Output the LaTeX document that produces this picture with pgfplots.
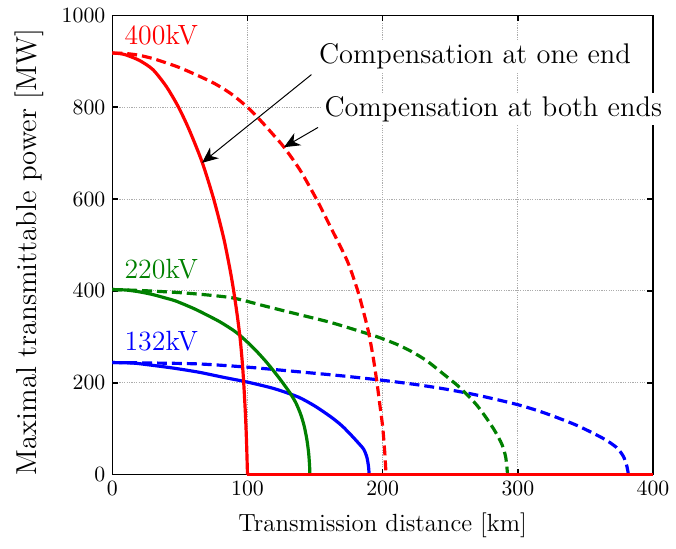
\documentclass[border=0pt]{standalone}
\usepackage{pgfplots}
\pgfplotsset{compat=1.18}
\usetikzlibrary{arrows.meta}

\definecolor{lred}{RGB}{255,0,0}
\definecolor{lgreen}{RGB}{0,128,0}
\definecolor{lblue}{RGB}{0,0,255}

\begin{document}
\begin{tikzpicture}
\begin{axis}[
  scale only axis,
  width=272pt, height=231pt,
  xmin=0, xmax=400, ymin=0, ymax=1000,
  xtick={0,100,200,300,400},
  ytick={0,200,400,600,800,1000},
  /pgf/number format/1000 sep={},
  grid=major,
  major grid style={gray!65, line width=0.5pt, dash pattern=on 0.6pt off 0.6pt},
  tick align=inside,
  major tick length=3pt,
  tick style={black, line width=0.8pt},
  axis line style={black, line width=0.6pt},
  clip=false,
  tick label style={font=\fontsize{11}{13}\selectfont},
  xlabel={Transmission distance [km]},
  ylabel={Maximal transmittable power [MW]},
  xlabel style={font=\fontsize{12.5}{15}\selectfont, inner sep=0pt, at={(axis description cs:0.5,-0.1234)}, anchor=base},
  ylabel style={font=\fontsize{14.5}{16}\selectfont, inner sep=0pt, at={(axis description cs:-0.1526,0.485)}, anchor=center},
  every axis plot/.append style={line width=1.6pt, line join=round},
  curve/.style={smooth, tension=0.45},
  solidline/.style={solid},
  dashline/.style={dash pattern=on 5pt off 2.5pt},
]

% 132 kV, compensation at one end
\addplot[lblue, solidline, curve] coordinates {
 (0,244)(15,243)(27,239)(45,232)(64,223)(82,212)(100.7,201)(120,187)
 (137.5,169)(150,149)(162,125)(170,106)(177,85)(182,69)(186,55)
 (188.3,38)(189.5,18)(190,0)};
\addplot[lblue, solidline] coordinates {(190,0)(400,0)};
% 132 kV, compensation at both ends
\addplot[lblue, dashline, curve] coordinates {
 (0,244)(30,243)(64,241)(100,234)(137.5,224)(170,215)(198,206)(220,198)
 (245,187)(270,173)(299,153)(319,135)(343,108)(363,79)(373,59)(378,40)
 (380.5,20)(381.8,0)};
\addplot[lblue, dashline] coordinates {(381.8,0)(400,0)};

% 220 kV, compensation at one end
\addplot[lgreen, solidline, curve] coordinates {
 (0,403)(10,402)(20,398)(30,392)(40,384)(47,378)(60,362)(69,349)(80,332)
 (92,309)(104,277)(114,245)(123,212)(131.4,178)(136,155)(139.5,130)
 (142,105)(144,75)(145.3,45)(146,15)(146,0)};
\addplot[lgreen, solidline] coordinates {(146,0)(400,0)};
% 220 kV, compensation at both ends
\addplot[lgreen, dashline, curve] coordinates {
 (0,403)(20,401)(40,398)(60,394)(88.5,385)(113,367)(137.5,349)(162,331)
 (186.5,309)(198,298)(211,283)(222,267)(233,247)(245.4,218)(255,195)
 (262.5,174)(270,150)(277,122)(283,95)(288.2,66)(291,38)(292.4,0)};
\addplot[lgreen, dashline] coordinates {(292.4,0)(400,0)};

% 400 kV, compensation at both ends
\addplot[lred, dashline, curve] coordinates {
 (0,918)(10,917)(20,913)(30,906)(39.5,897)(50,886)(64,868)(76,851)
 (88,829)(100,800)(110,770)(120,737)(127,713)(138.7,664)(151,600)
 (162,536)(174,464)(181.6,400)(185.5,358)(189.5,311)(193,255)(195.8,200)
 (198,150)(200,104)(201.5,50)(202.5,0)};
\addplot[lred, dashline] coordinates {(202.5,0)(400,0)};
% 400 kV, compensation at one end
\addplot[lred, solidline, curve] coordinates {
 (0,918)(5,917)(10,914)(20,902)(30,882)(40,845)(49,800)(57,750)
 (66.5,680)(75,600)(82.4,515)(87.3,443)(90,396)(92.5,345)(94.5,298)
 (96,250)(97.2,200)(98.5,130)(99.3,70)(100,0)};
\addplot[lred, solidline] coordinates {(100,0)(400,0)};

% voltage level labels
\node[lred, anchor=base west, inner sep=0pt, font=\fontsize{14}{16}\selectfont] at (axis cs:8.8,936) {400kV};
\node[lgreen, anchor=base west, inner sep=0pt, font=\fontsize{14}{16}\selectfont] at (axis cs:8.8,428) {220kV};
\node[lblue, anchor=base west, inner sep=0pt, font=\fontsize{14}{16}\selectfont] at (axis cs:8.8,270) {132kV};

% annotations
\draw[black, line width=0.5pt, -{Stealth[length=8pt, width=7pt, inset=2.5pt]}]
  (axis cs:147.3,871) -- (axis cs:66.4,679);
\draw[black, line width=0.5pt, -{Stealth[length=8pt, width=7pt, inset=2.5pt]}]
  (axis cs:152.2,756) -- (axis cs:127,713);
\node[anchor=base west, fill=white, inner sep=1.5pt, font=\fontsize{14.3}{16}\selectfont]
  at (axis cs:150.5,896) {Compensation at one end};
\node[anchor=base west, fill=white, inner sep=1.5pt, font=\fontsize{14.3}{16}\selectfont]
  at (axis cs:154.5,780) {Compensation at both ends};

% white margin around the figure
\path (axis description cs:-0.2077,-0.16) (axis description cs:1.0,1.0335);
\end{axis}
\end{tikzpicture}
\end{document}
